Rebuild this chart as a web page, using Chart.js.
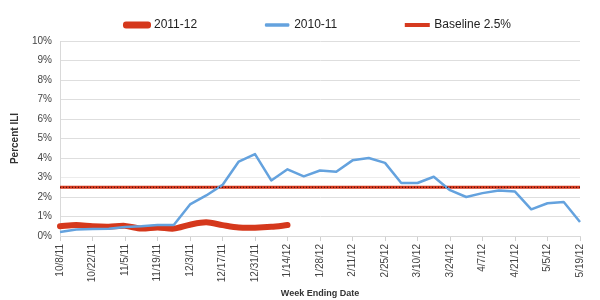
<!DOCTYPE html>
<html>
<head>
<meta charset="utf-8">
<script src="https://cdn.jsdelivr.net/npm/chart.js@4/dist/chart.umd.min.js"></script>
<style>
html,body{margin:0;padding:0;background:#ffffff;}
#wrap{width:600px;height:300px;}
</style>
</head>
<body>
<div id="wrap"><canvas id="c" width="600" height="300"></canvas></div>
<script>
// Week ending dates (x categories)
const weeks = ['10/8/11','10/15/11','10/22/11','10/29/11','11/5/11','11/12/11','11/19/11','11/26/11',
  '12/3/11','12/10/11','12/17/11','12/24/11','12/31/11','1/7/12','1/14/12','1/21/12','1/28/12',
  '2/4/12','2/11/12','2/18/12','2/25/12','3/3/12','3/10/12','3/17/12','3/24/12','3/31/12',
  '4/7/12','4/14/12','4/21/12','4/28/12','5/5/12','5/12/12','5/19/12'];

// Percent ILI, season 2011-12 (partial season)
const season2011_12 = [0.5, 0.56, 0.5, 0.48, 0.52, 0.38, 0.44, 0.38, 0.58, 0.7, 0.56, 0.44, 0.43, 0.47, 0.56];

// Percent ILI, season 2010-11
const season2010_11 = [0.21, 0.33, 0.36, 0.37, 0.46, 0.5, 0.56, 0.56, 1.62, 2.08, 2.62, 3.82, 4.2, 2.85, 3.42,
  3.06, 3.36, 3.3, 3.88, 4.0, 3.75, 2.72, 2.72, 3.04, 2.35, 2.0, 2.2, 2.33, 2.28, 1.37, 1.68, 1.74, 0.72];

// Baseline
const baselinePct = 2.5;

// Y-axis range (percent)
const yMin = 0, yMax = 10, yStep = 1;

const FONT = '"Liberation Sans", Arial, Helvetica, sans-serif';
const RED = '#d5381c';
const BLUE = '#64a2de';
const BASE_RED = '#d63a1f';

const baselineData = [{x: weeks[0], y: baselinePct}, {x: weeks[weeks.length - 1], y: baselinePct}];

new Chart(document.getElementById('c'), {
  type: 'line',
  data: {
    labels: weeks,
    datasets: [
      {
        label: '2011-12',
        data: season2011_12,
        borderColor: RED,
        backgroundColor: RED,
        borderWidth: 6,
        borderCapStyle: 'round',
        borderJoinStyle: 'round',
        tension: 0.3,
        pointRadius: 0,
        fill: false,
        order: 2
      },
      {
        label: '2010-11',
        data: season2010_11,
        borderColor: BLUE,
        backgroundColor: BLUE,
        borderWidth: 2.5,
        borderJoinStyle: 'round',
        tension: 0,
        pointRadius: 0,
        fill: false,
        order: 1
      },
      {
        label: 'Baseline 2.5%',
        data: baselineData,
        borderColor: BASE_RED,
        backgroundColor: BASE_RED,
        borderWidth: 3,
        pointRadius: 0,
        fill: false,
        order: 3
      },
      {
        label: '',
        data: baselineData,
        borderColor: 'rgba(40,0,0,0.95)',
        backgroundColor: 'rgba(40,0,0,0.95)',
        borderWidth: 1,
        borderDash: [1, 2],
        pointRadius: 0,
        fill: false,
        order: 0
      }
    ]
  },
  options: {
    responsive: false,
    animation: false,
    devicePixelRatio: 1,
    layout: { padding: { top: -50, left: 9, right: 20, bottom: 0 } },
    plugins: {
      tooltip: { enabled: false },
      legend: {
        position: 'top',
        align: 'end',
        labels: {
          boxWidth: 22,
          boxHeight: 1,
          padding: 69,
          color: '#222',
          font: { family: FONT, size: 12 },
          filter: (item) => item.text !== '',
          sort: (a, b) => a.datasetIndex - b.datasetIndex
        }
      }
    },
    scales: {
      x: {
        type: 'category',
        offset: false,
        grid: {
          display: true,
          drawOnChartArea: false,
          drawTicks: true,
          tickLength: 5,
          tickColor: '#d0d0d0'
        },
        border: { display: true, color: '#d9d9d9' },
        ticks: {
          autoSkip: true,
          maxTicksLimit: 17,
          minRotation: 90,
          maxRotation: 90,
          padding: 3,
          color: '#444',
          font: { family: FONT, size: 10 }
        },
        title: {
          display: true,
          text: 'Week Ending Date',
          color: '#333',
          font: { family: FONT, size: 9, weight: 'bold' },
          padding: { top: 3, bottom: 1 }
        }
      },
      y: {
        min: yMin,
        max: yMax,
        grid: {
          color: (ctx) => (ctx.tick && ctx.tick.value === 3) ? '#ececec' : '#dedede',
          drawTicks: false
        },
        border: { display: true, color: '#d9d9d9' },
        ticks: {
          stepSize: yStep,
          padding: 8,
          color: '#444',
          font: { family: FONT, size: 10 },
          callback: (v) => v + '%'
        },
        title: {
          display: true,
          text: 'Percent ILI',
          color: '#333',
          font: { family: FONT, size: 10, weight: 'bold' },
          padding: { top: 0, bottom: 3 }
        }
      }
    }
  }
});
</script>
</body>
</html>
